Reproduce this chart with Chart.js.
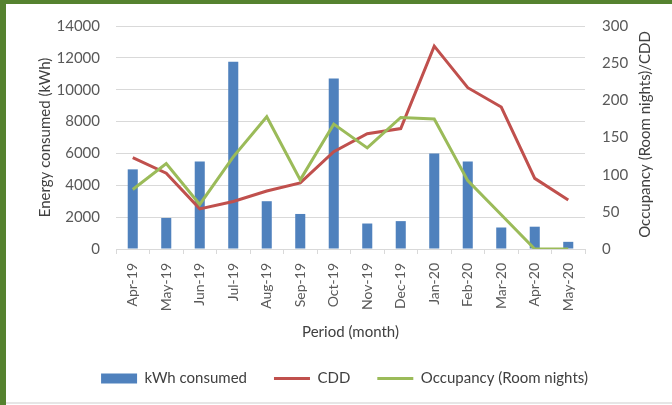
<!DOCTYPE html>
<html>
<head>
<meta charset="utf-8">
<script src="https://cdn.jsdelivr.net/npm/chart.js@4/dist/chart.umd.min.js"></script>
<style>
  html, body { margin: 0; padding: 0; background: #fff; }
  canvas { display: block; }
</style>
</head>
<body>
<canvas id="chart" width="672" height="405"></canvas>
<script>
// values
const months = ['Apr-19', 'May-19', 'Jun-19', 'Jul-19', 'Aug-19', 'Sep-19', 'Oct-19',
  'Nov-19', 'Dec-19', 'Jan-20', 'Feb-20', 'Mar-20', 'Apr-20', 'May-20'];
const kwhConsumed = [5000, 1950, 5500, 11750, 3000, 2200, 10700, 1600, 1750, 6000, 5500, 1350, 1400, 450];
const cdd = [123, 102, 54, 64, 78, 89, 131, 155, 162, 273, 217, 191, 95, 66];
const occupancy = [80, 115, 60, 124, 178, 93, 168, 136, 177, 175, 92, 46, 0, 0];

const FONT = 'Lato, "Open Sans", sans-serif';
const tickGray = '#595959';
const gridGray = '#d9d9d9';

// green frame + bottom rule of the screenshot
const framePlugin = {
  id: 'frame',
  beforeDraw(chart) {
    const ctx = chart.ctx;
    ctx.save();
    ctx.fillStyle = '#fff';
    ctx.fillRect(0, 0, chart.width, chart.height);
    ctx.restore();
  },
  afterDraw(chart) {
    const ctx = chart.ctx;
    ctx.save();
    ctx.fillStyle = '#55822f';
    ctx.fillRect(0, 0, chart.width, 4);
    ctx.fillRect(0, 0, 6, chart.height);
    ctx.fillStyle = '#e6e6e6';
    ctx.fillRect(6, 402, chart.width - 6, 2);
    ctx.restore();
  }
};

// right axis title reads bottom-to-top like the left one
const rightTitlePlugin = {
  id: 'rightTitle',
  afterDraw(chart) {
    const s = chart.scales.y1;
    const ctx = chart.ctx;
    ctx.save();
    ctx.translate(s.right - 27, (chart.chartArea.top + chart.chartArea.bottom) / 2 - 3);
    ctx.rotate(-Math.PI / 2);
    ctx.font = '15px ' + FONT;
    ctx.fillStyle = '#404040';
    ctx.textAlign = 'center';
    ctx.textBaseline = 'middle';
    ctx.fillText('Occupancy (Room nights)/CDD', 0, 0);
    ctx.restore();
  }
};

const plain = v => String(v);

new Chart(document.getElementById('chart'), {
  type: 'bar',
  data: {
    labels: months,
    datasets: [
      {
        label: 'kWh consumed',
        data: kwhConsumed,
        backgroundColor: '#4f81bd',
        borderWidth: 0,
        barPercentage: 0.3,
        categoryPercentage: 1,
        yAxisID: 'y',
        order: 3
      },
      {
        type: 'line',
        label: 'CDD',
        data: cdd,
        borderColor: '#c0504d',
        backgroundColor: '#c0504d',
        borderWidth: 3,
        pointRadius: 0,
        tension: 0,
        yAxisID: 'y1',
        order: 2
      },
      {
        type: 'line',
        label: 'Occupancy (Room nights)',
        data: occupancy,
        borderColor: '#9bbb59',
        backgroundColor: '#9bbb59',
        borderWidth: 3,
        pointRadius: 0,
        tension: 0,
        yAxisID: 'y1',
        order: 1
      }
    ]
  },
  options: {
    responsive: false,
    devicePixelRatio: 1,
    animation: false,
    layout: { padding: { top: 23, left: 17, right: 0, bottom: 9 } },
    plugins: {
      tooltip: { enabled: false },
      legend: {
        position: 'bottom',
        labels: {
          font: { family: FONT, size: 15 },
          color: '#404040',
          usePointStyle: true,
          pointStyleWidth: 36,
          boxHeight: 10,
          padding: 27,
          sort: (a, b) => a.datasetIndex - b.datasetIndex,
          generateLabels(chart) {
            const items = Chart.defaults.plugins.legend.labels.generateLabels(chart);
            items.forEach(it => {
              it.pointStyle = it.datasetIndex === 0 ? 'rect' : 'line';
            });
            return items;
          }
        }
      }
    },
    scales: {
      x: {
        offset: true,
        grid: { offset: true, drawOnChartArea: false, drawTicks: true, tickLength: 5, color: gridGray },
        border: { display: true, color: gridGray },
        ticks: {
          minRotation: 90, maxRotation: 90, padding: 9,
          color: tickGray, font: { family: FONT, size: 14 }
        },
        title: {
          display: true, text: 'Period (month)', color: '#404040',
          font: { family: FONT, size: 15 }, padding: { top: 0, bottom: 3 }
        },
        afterFit(s) { s.height = 95; }
      },
      y: {
        position: 'left',
        min: 0, max: 14000,
        ticks: { stepSize: 2000, padding: 16, color: tickGray, font: { family: FONT, size: 15 }, callback: plain },
        grid: { color: gridGray, drawTicks: false },
        border: { display: false },
        title: {
          display: true, text: 'Energy consumed (kWh)', color: '#404040',
          font: { family: FONT, size: 15 }, padding: { top: 19, bottom: 0 }
        },
        afterFit(s) { s.width = 99; }
      },
      y1: {
        position: 'right',
        min: 0, max: 300,
        ticks: { stepSize: 50, padding: 17, color: tickGray, font: { family: FONT, size: 15 }, callback: plain },
        grid: { drawOnChartArea: false, drawTicks: false },
        border: { display: false },
        afterFit(s) { s.width = 87; }
      }
    }
  },
  plugins: [framePlugin, rightTitlePlugin]
});
</script>
</body>
</html>
